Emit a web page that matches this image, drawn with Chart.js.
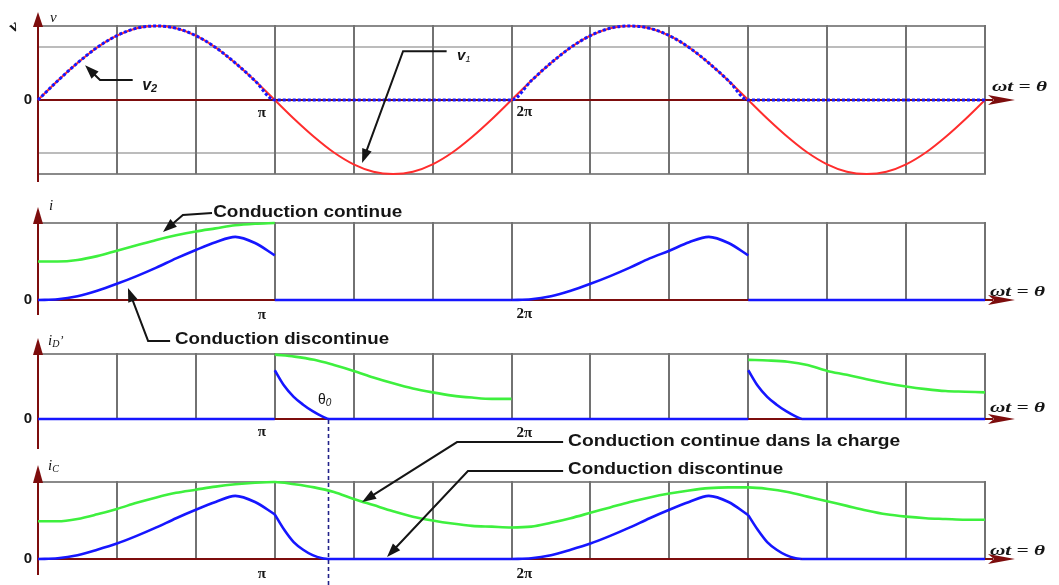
<!DOCTYPE html>
<html>
<head>
<meta charset="utf-8">
<script src="https://cdn.jsdelivr.net/npm/chart.js@4.4.1/dist/chart.umd.min.js"></script>
<style>
html,body{margin:0;padding:0;background:#fff;}
#wrap{position:relative;width:1059px;height:585px;overflow:hidden;background:#fff;}
#wrap canvas{position:absolute;left:0;top:0;}
</style>
</head>
<body>
<div id="wrap">
<canvas id="p1" width="1059" height="585"></canvas>
<canvas id="p2" width="1059" height="585"></canvas>
<canvas id="p3" width="1059" height="585"></canvas>
<canvas id="p4" width="1059" height="585"></canvas>
</div>
<script>
// ---------- sample positions (ωt in units of π) ----------
const theta = Array.from({length: 49}, (_, k) => k / 12);   // 0 … 4π, step π/12
const gridTheta = Array.from({length: 13}, (_, k) => k / 3); // grid every π/3
const xTickLabels = ['0', 'π', '2π'];
const theta0 = 1.225;                                        // extinction angle θ0 (×π)

// ---------- panel 1 : v1 (red) and v2 (blue dotted) ----------
const v1 = [0,0.26,0.5,0.71,0.87,0.97,1,0.97,0.87,0.71,0.5,0.26,0,
  -0.26,-0.5,-0.71,-0.87,-0.97,-1,-0.97,-0.87,-0.71,-0.5,-0.26,0,
  0.26,0.5,0.71,0.87,0.97,1,0.97,0.87,0.71,0.5,0.26,0,
  -0.26,-0.5,-0.71,-0.87,-0.97,-1,-0.97,-0.87,-0.71,-0.5,-0.26,0];
const v2 = [0,0.26,0.5,0.71,0.87,0.97,1,0.97,0.87,0.71,0.5,0.26,0,
  0,0,0,0,0,0,0,0,0,0,0,0,
  0.26,0.5,0.71,0.87,0.97,1,0.97,0.87,0.71,0.5,0.26,0,
  0,0,0,0,0,0,0,0,0,0,0,0];
const v1GridLevels = [1, 0.72, -0.72, -1];

// ---------- panel 2 : i ----------
const iCont  = [0.50,0.50,0.52,0.57,0.64,0.71,0.78,0.84,0.89,0.93,0.97,0.99,1.00]; // θ 0..π
const iDisc1 = [0,0.01,0.05,0.12,0.21,0.31,0.42,0.54,0.65,0.75,0.82,0.74,0.58];   // θ 0..π
const iDisc2 = [0,0.01,0.05,0.12,0.21,0.31,0.42,0.54,0.64,0.75,0.82,0.74,0.58];   // θ 2π..3π
const iOffTheta = [1,2,2,3,4];
const iOff      = [0,0,null,0,0];

// ---------- panel 3 : iD' ----------
const iDCont1 = [0.99,0.96,0.91,0.83,0.74,0.64,0.55,0.47,0.41,0.36,0.33,0.31,0.31]; // θ π..2π
const iDCont2 = [0.91,0.90,0.88,0.83,0.74,0.68,0.61,0.55,0.50,0.46,0.43,0.42,0.41]; // θ 3π..4π
const thetaDecay1 = [1,1.04,1.08,1.12,1.16,1.2,1.225];
const thetaDecay2 = [3,3.04,3.08,3.12,3.16,3.2,3.225];
const iDDecay1 = [0.75,0.51,0.34,0.22,0.12,0.04,0];
const iDDecay2 = [0.75,0.51,0.34,0.22,0.12,0.04,0];
const iDOffTheta = [0,1,1,1.225,3,3,3.225,4];
const iDOff      = [0,0,null,0,0,null,0,0];

// ---------- panel 4 : iC ----------
const iCCont = [0.49,0.49,0.52,0.58,0.65,0.73,0.80,0.86,0.90,0.94,0.97,0.99,1.00,
  0.97,0.93,0.87,0.78,0.70,0.62,0.55,0.50,0.46,0.43,0.42,0.41,
  0.42,0.47,0.53,0.60,0.67,0.74,0.80,0.85,0.89,0.92,0.93,0.93,
  0.91,0.87,0.81,0.75,0.69,0.63,0.58,0.55,0.53,0.52,0.51,0.51];
const iCDisc1 = [0,0.01,0.05,0.12,0.20,0.30,0.41,0.53,0.64,0.74,0.82,0.74,0.58]; // θ 0..π
const iCDisc2 = [0,0.01,0.05,0.12,0.20,0.30,0.41,0.53,0.64,0.74,0.82,0.74,0.57]; // θ 2π..3π
const iCTail1 = [0.58,0.38,0.22,0.12,0.05,0.01,0];
const iCTail2 = [0.57,0.38,0.22,0.12,0.05,0.01,0];
const iCOffTheta = [1.225,2,2,3.225,4];
const iCOff      = [0,0,null,0,0];

// ---------- styling ----------
const MAROON = '#7d0d0d', RED = '#ff2d2d', BLUE = '#1616ff', GREEN = '#3ef03e', NAVY = '#22228a';
const SANS = '"Liberation Sans", Arial, sans-serif';
const SERIF = '"Liberation Serif", "Times New Roman", serif';

const series = (xs, ys) => xs.map((x, i) => ({x, y: ys[i]}));
function line(data, color, width, extra) {
  return Object.assign({data, borderColor: color, borderWidth: width, pointRadius: 0,
    fill: false, clip: false, spanGaps: false, cubicInterpolationMode: 'monotone',
    borderJoinStyle: 'round'}, extra || {});
}

function drawParts(ctx, lab, X, Y) {
  let total = 0;
  lab.parts.forEach(p => { ctx.font = p.f; p.w = ctx.measureText(p.t).width; total += p.w; });
  const sx = lab.width ? lab.width / total : 1;
  ctx.save();
  ctx.translate(X, Y);
  if (lab.rot) ctx.rotate(lab.rot);
  let cx = lab.align === 'right' ? -total * sx : lab.align === 'center' ? -total * sx / 2 : 0;
  ctx.fillStyle = '#151515';
  ctx.textBaseline = 'middle';
  ctx.textAlign = 'left';
  lab.parts.forEach(p => {
    ctx.save();
    ctx.font = p.f;
    ctx.translate(cx, p.dy || 0);
    ctx.scale(sx, 1);
    ctx.fillText(p.t, 0, 0);
    ctx.restore();
    cx += p.w * sx;
  });
  ctx.restore();
}

function drawArrow(ctx, pts) {
  ctx.save();
  ctx.strokeStyle = '#151515'; ctx.fillStyle = '#151515'; ctx.lineWidth = 2;
  const n = pts.length, a = pts[n - 2], b = pts[n - 1];
  const ang = Math.atan2(b[1] - a[1], b[0] - a[0]);
  const L = 14, W = 5;
  ctx.beginPath();
  pts.forEach((p, i) => {
    if (i === n - 1) ctx.lineTo(b[0] - (L - 2) * Math.cos(ang), b[1] - (L - 2) * Math.sin(ang));
    else if (i) ctx.lineTo(p[0], p[1]); else ctx.moveTo(p[0], p[1]);
  });
  ctx.stroke();
  ctx.beginPath();
  ctx.moveTo(b[0], b[1]);
  ctx.lineTo(b[0] - L * Math.cos(ang) + W * Math.sin(ang), b[1] - L * Math.sin(ang) - W * Math.cos(ang));
  ctx.lineTo(b[0] - L * Math.cos(ang) - W * Math.sin(ang), b[1] - L * Math.sin(ang) + W * Math.cos(ang));
  ctx.closePath(); ctx.fill();
  ctx.restore();
}

function decor(spec) {
  return {
    id: 'decor_' + spec.name,
    beforeDatasetsDraw(chart) {
      const {ctx} = chart, x = chart.scales.x, y = chart.scales.y;
      const xl = x.getPixelForValue(0), xr = x.getPixelForValue(4);
      const yTop = y.getPixelForValue(spec.gridTop), yBot = y.getPixelForValue(spec.gridBottom);
      const y0 = y.getPixelForValue(0);
      ctx.save();
      ctx.lineWidth = 2;
      spec.hLines.forEach(h => {
        const yy = Math.round(y.getPixelForValue(h.v));
        ctx.strokeStyle = h.color;
        ctx.beginPath(); ctx.moveTo(xl, yy); ctx.lineTo(xr + 1, yy); ctx.stroke();
      });
      ctx.strokeStyle = '#727272';
      gridTheta.forEach(t => {
        if (t === 0) return;
        const xx = Math.round(x.getPixelForValue(t));
        ctx.beginPath(); ctx.moveTo(xx, yTop - 1); ctx.lineTo(xx, yBot); ctx.stroke();
      });
      // axes
      ctx.strokeStyle = MAROON; ctx.fillStyle = MAROON; ctx.lineWidth = 2;
      const ax = Math.round(xl);
      ctx.beginPath(); ctx.moveTo(ax, yBot + spec.axisTail); ctx.lineTo(ax, yTop - spec.arrowTip + 6); ctx.stroke();
      ctx.beginPath();
      ctx.moveTo(ax, yTop - spec.arrowTip);
      ctx.lineTo(ax + 5, yTop + 1); ctx.lineTo(ax - 5, yTop + 1); ctx.closePath(); ctx.fill();
      ctx.beginPath(); ctx.moveTo(ax, y0); ctx.lineTo(xr + 8, y0); ctx.stroke();
      ctx.beginPath();
      ctx.moveTo(xr + 30, y0);
      ctx.lineTo(xr + 3, y0 - 5); ctx.lineTo(xr + 9, y0); ctx.lineTo(xr + 3, y0 + 5); ctx.closePath(); ctx.fill();
      ctx.restore();
    },
    afterDatasetsDraw(chart) {
      const {ctx} = chart, x = chart.scales.x, y = chart.scales.y;
      const P = (t, v) => [x.getPixelForValue(t), y.getPixelForValue(v)];
      if (spec.dashed) {
        const [dx, dy] = P(spec.dashed, 0);
        ctx.save();
        ctx.strokeStyle = NAVY; ctx.lineWidth = 1.6; ctx.setLineDash([4, 3]);
        ctx.beginPath(); ctx.moveTo(Math.round(dx) + 0.5, dy + 1); ctx.lineTo(Math.round(dx) + 0.5, chart.height); ctx.stroke();
        ctx.restore();
      }
      (spec.arrows || []).forEach(a => drawArrow(ctx, a.map(p => P(p[0], p[1]))));
      spec.labels.forEach(l => {
        const [X, Y] = P(l.at[0], l.at[1]);
        drawParts(ctx, l, X + (l.dx || 0), Y + (l.dy || 0));
      });
    }
  };
}

function axisLabels(piDy, twoDy, omDy, omDx) {
  return [
    {at: [0, 0], dx: -6, dy: 0, align: 'right', parts: [{t: xTickLabels[0], f: `bold 15px ${SANS}`}]},
    {at: [1, 0], dx: -13, dy: piDy, align: 'center', parts: [{t: xTickLabels[1], f: `bold 15px ${SERIF}`}]},
    {at: [2, 0], dx: 5, dy: twoDy, align: 'left', parts: [{t: xTickLabels[2], f: `bold 15px ${SERIF}`}]},
    {at: [4, 0], dx: omDx, dy: omDy, align: 'left', width: 55, parts: [{t: 'ωt = θ', f: `italic bold 15px ${SERIF}`}]}
  ];
}

function makeChart(id, padTop, padBottom, yMin, yMax, datasets, spec) {
  return new Chart(document.getElementById(id), {
    type: 'line',
    data: {datasets},
    options: {
      responsive: false, animation: false, events: [],
      layout: {padding: {left: 38, right: 74, top: padTop, bottom: padBottom}},
      scales: {
        x: {type: 'linear', min: 0, max: 4, display: false},
        y: {type: 'linear', min: yMin, max: yMax, display: false}
      },
      plugins: {legend: {display: false}, tooltip: {enabled: false}, title: {display: false}}
    },
    plugins: [decor(spec)]
  });
}

const conductionFont = `bold 16px ${SANS}`;

// ---- Panel 1 ----
makeChart('p1', 26, 411, -1, 1, [
  line(series(theta, v2), BLUE, 3, {borderDash: [3, 2], borderCapStyle: 'butt'}),
  line(series(theta, v1), RED, 2)
], {
  name: 'v', gridTop: 1, gridBottom: -1, axisTail: 8, arrowTip: 14,
  hLines: v1GridLevels.map(v => ({v, color: Math.abs(v) === 1 ? '#8a8a8a' : '#bcbcbc'})),
  arrows: [
    [[0.40, 0.27], [0.262, 0.27], [0.199, 0.47]],
    [[1.726, 0.66], [1.542, 0.66], [1.369, -0.85]]
  ],
  labels: axisLabels(13, 12, -13, 7).concat([
    {at: [0, 1], dx: 12, dy: -8, align: 'left', parts: [{t: 'v', f: `italic 15px ${SERIF}`}]},
    {at: [0, 1], dx: -24, dy: 1, align: 'center', rot: -0.6, parts: [{t: 'v', f: `italic bold 17px ${SERIF}`}]},
    {at: [0.44, 0.19], align: 'left', parts: [{t: 'v', f: `italic bold 16px ${SANS}`}, {t: '2', f: `italic bold 11px ${SANS}`, dy: 3}]},
    {at: [1.77, 0.59], align: 'left', parts: [{t: 'v', f: `italic bold 15px ${SANS}`}, {t: '1', f: `italic 9px ${SANS}`, dy: 3}]}
  ])
});

// ---- Panel 2 ----
makeChart('p2', 223, 285, 0, 1, [
  line(series(theta.slice(0, 13), iDisc1), BLUE, 2.6),
  line(series(theta.slice(24, 37), iDisc2), BLUE, 2.6),
  line(series(iOffTheta, iOff), BLUE, 2.6),
  line(series(theta.slice(0, 13), iCont), GREEN, 2.6)
], {
  name: 'i', gridTop: 1, gridBottom: 0, axisTail: 15, arrowTip: 16,
  hLines: [{v: 1, color: '#8a8a8a'}],
  arrows: [
    [[0.735, 1.13], [0.612, 1.104], [0.528, 0.883]],
    [[0.558, -0.532], [0.465, -0.532], [0.380, 0.156]]
  ],
  labels: axisLabels(15, 14, -8, 5).concat([
    {at: [0, 1], dx: 11, dy: -17, align: 'left', parts: [{t: 'i', f: `italic 15px ${SERIF}`}]},
    {at: [0.74, 1.13], align: 'left', width: 189, parts: [{t: 'Conduction continue', f: conductionFont}]},
    {at: [0.579, -0.52], align: 'left', width: 214, parts: [{t: 'Conduction discontinue', f: conductionFont}]}
  ])
});

// ---- Panel 3 ----
makeChart('p3', 354, 166, 0, 1, [
  line(series(thetaDecay1, iDDecay1), BLUE, 2.6),
  line(series(thetaDecay2, iDDecay2), BLUE, 2.6),
  line(series(iDOffTheta, iDOff), BLUE, 2.6),
  line(series(theta.slice(12, 25), iDCont1), GREEN, 2.6),
  line(series(theta.slice(36, 49), iDCont2), GREEN, 2.6)
], {
  name: 'iD', gridTop: 1, gridBottom: 0, axisTail: 30, arrowTip: 16, dashed: theta0,
  hLines: [{v: 1, color: '#8a8a8a'}],
  labels: axisLabels(13, 14, -11, 5).concat([
    {at: [0, 1], dx: 10, dy: -13, align: 'left', parts: [
      {t: 'i', f: `italic 15px ${SERIF}`}, {t: 'D', f: `italic 10px ${SERIF}`, dy: 3}, {t: '\u2019', f: `italic 12px ${SERIF}`}]},
    {at: [theta0, 0], dx: -10, dy: -19, align: 'left', parts: [
      {t: 'θ', f: `14px ${SANS}`}, {t: '0', f: `italic 10px ${SANS}`, dy: 3}]}
  ])
});

// ---- Panel 4 ----
makeChart('p4', 482, 26, 0, 1, [
  line(series(theta.slice(0, 13), iCDisc1), BLUE, 2.6),
  line(series(thetaDecay1, iCTail1), BLUE, 2.6),
  line(series(theta.slice(24, 37), iCDisc2), BLUE, 2.6),
  line(series(thetaDecay2, iCTail2), BLUE, 2.6),
  line(series(iCOffTheta, iCOff), BLUE, 2.6),
  line(series(theta, iCCont), GREEN, 2.6)
], {
  name: 'iC', gridTop: 1, gridBottom: 0, axisTail: 16, arrowTip: 17,
  hLines: [{v: 1, color: '#8a8a8a'}],
  arrows: [
    [[2.218, 1.519], [1.770, 1.519], [1.369, 0.740]],
    [[2.218, 1.143], [1.816, 1.143], [1.474, 0.026]]
  ],
  labels: axisLabels(15, 15, -8, 5).concat([
    {at: [0, 1], dx: 10, dy: -16, align: 'left', parts: [
      {t: 'i', f: `italic 15px ${SERIF}`}, {t: 'C', f: `italic 10px ${SERIF}`, dy: 3}]},
    {at: [2.239, 1.52], align: 'left', width: 332, parts: [{t: 'Conduction continue dans la charge', f: conductionFont}]},
    {at: [2.239, 1.156], align: 'left', width: 215, parts: [{t: 'Conduction discontinue', f: conductionFont}]}
  ])
});
</script>
</body>
</html>
